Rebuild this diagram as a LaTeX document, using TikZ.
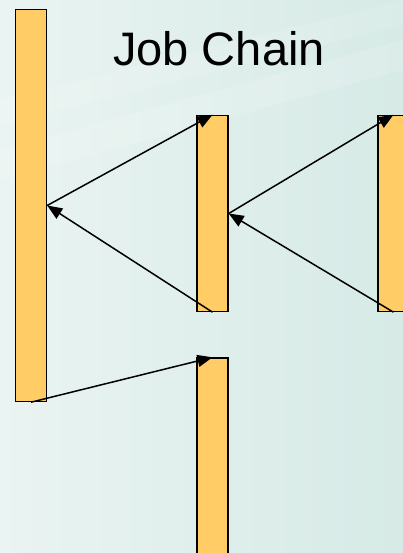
\documentclass[tikz,border=0pt]{standalone}
\usepackage{fontspec}
\setmainfont{Liberation Sans}
\usetikzlibrary{arrows.meta}

\definecolor{bgleft}{RGB}{234,244,242}
\definecolor{bgright}{RGB}{214,234,230}
\definecolor{barfill}{RGB}{255,204,102}

\begin{document}
\begin{tikzpicture}[
  x=1pt, y=-1pt,
  bar/.style={rectangle, draw=black, line width=1.4pt, fill=barfill,
    minimum width=31pt, inner sep=0pt},
  long bar/.style={bar, minimum height=392pt},
  short bar/.style={bar, minimum height=196pt},
  link/.style={draw, line width=1.5pt, -{Triangle[length=15pt,width=12pt]}}
]
\useasboundingbox (0,0) rectangle (403,553);
\clip (0,0) rectangle (403,553);
% background
\shade[left color=bgleft, right color=bgright] (0,0) rectangle (403,553);
\fill[white, opacity=0.15] (0,150) -- (403,40) -- (403,70) -- (0,180) -- cycle;
\fill[white, opacity=0.12] (0,100) -- (403,0) -- (403,25) -- (0,125) -- cycle;
% jobs
\node[long bar] (main) at (31,205.5) {};
\node[short bar] (sub) at (212.5,213.5) {};
\node[short bar] (subsub) at (393.5,213.5) {};
\node[short bar] (next) at (212.5,456) {};
\node[font=\fontsize{47}{56}\selectfont] (title) at (219,49) {Job Chain};
% calls and returns
\draw[link] (main.east) -- (sub.north);
\draw[link] (sub.south) -- (main.east);
\draw[link] (sub.east) -- (subsub.north);
\draw[link] (subsub.south) -- (sub.east);
\draw[link] (main.south) -- (next.north);
\end{tikzpicture}
\end{document}
